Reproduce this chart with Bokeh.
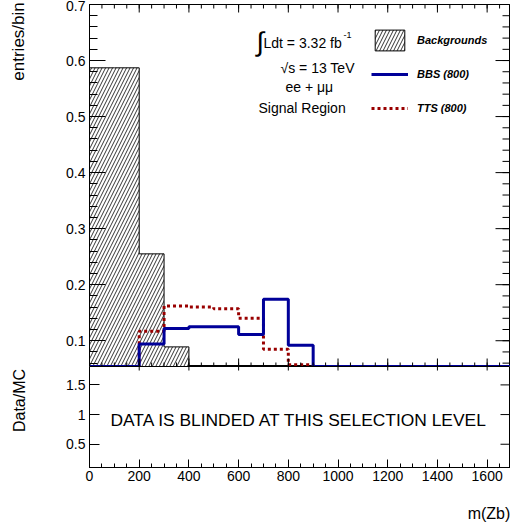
import numpy as np
from bokeh.plotting import figure
from bokeh.models import Range1d, FixedTicker, LinearAxis, Label, Legend, LegendItem
from bokeh.layouts import column
from bokeh.embed import file_html
from bokeh.resources import INLINE

# ---------------- data ----------------
bin_edges = [0, 100, 200, 300, 400, 500, 600, 700, 800, 900, 1000,
             1100, 1200, 1300, 1400, 1500, 1600, 1700]
backgrounds = [0.587, 0.587, 0.255, 0.089, 0, 0, 0, 0, 0, 0, 0, 0, 0, 0, 0, 0, 0]
bbs_800 = [0, 0, 0.094, 0.122, 0.125, 0.125, 0.111, 0.174, 0.092, 0, 0, 0, 0, 0, 0, 0, 0]
tts_800 = [0, 0, 0.117, 0.162, 0.160, 0.157, 0.140, 0.085, 0.057, 0, 0, 0, 0, 0, 0, 0, 0]

x_major_ticks = [0, 200, 400, 600, 800, 1000, 1200, 1400, 1600]
x_minor_ticks = list(range(0, 1701, 50))
y_major_ticks = [0.1, 0.2, 0.3, 0.4, 0.5, 0.6, 0.7]
y_minor_ticks = [round(v, 2) for v in np.arange(0.06, 0.701, 0.02)]
ratio_ticks = [0.5, 1, 1.5]

FONT = "Liberation Sans"

# ---------------- layout constants ----------------
W = 510
LEFT = 89
TOP1 = 4
SPLIT = 366
BOT2 = 467
XMAX = 1694
Y1 = (0.054, 0.7)
Y2 = (0.108, 1.81)
DXPX = XMAX / (W - LEFT)
DY1PX = (Y1[1] - Y1[0]) / (SPLIT - TOP1)
DY2PX = (Y2[1] - Y2[0]) / (BOT2 - SPLIT)


def fx(px):
    return (px - LEFT) * DXPX


def fy1(py):
    return Y1[1] - (py - TOP1) * DY1PX


def fy2(py):
    return Y2[1] - (py - SPLIT) * DY2PX


def axis(ticks, minors, t_in, m_in, standoff=4, overrides=None):
    a = LinearAxis(ticker=FixedTicker(ticks=ticks, minor_ticks=minors),
                   major_tick_in=t_in, major_tick_out=0,
                   minor_tick_in=m_in, minor_tick_out=0,
                   axis_line_color="black", axis_line_width=1,
                   major_tick_line_color="black", minor_tick_line_color="black",
                   major_label_text_font=FONT,
                   major_label_text_color="black",
                   major_label_text_font_size="14px",
                   major_label_standoff=standoff)
    if overrides:
        a.major_label_overrides = overrides
    return a


def title_axis(text, at, gap, size, vertical):
    # axis title drawn as the single label of an outer, line-less axis
    at = round(float(at), 4)
    a = LinearAxis(ticker=FixedTicker(ticks=[at], minor_ticks=[]),
                   major_tick_in=0, major_tick_out=gap,
                   minor_tick_in=0, minor_tick_out=0,
                   axis_line_color=None, major_tick_line_color="white",
                   major_label_standoff=0,
                   major_label_text_font=FONT, major_label_text_color="black",
                   major_label_text_font_size=size,
                   major_label_overrides={at: text})
    if vertical:
        a.major_label_orientation = "vertical"
    return a


def xticks(p, ticks, edge, length_data):
    t = np.asarray(ticks, dtype=float)
    p.segment(x0=t, x1=t, y0=np.full(len(t), edge), y1=np.full(len(t), edge + length_data),
              line_color="black", line_width=1)


def yticks(p, ticks, edge, length_data):
    t = np.asarray(ticks, dtype=float)
    p.segment(x0=np.full(len(t), edge), x1=np.full(len(t), edge + length_data), y0=t, y1=t,
              line_color="black", line_width=1)


def steps(edges, vals, floor):
    v = np.maximum(np.asarray(vals, dtype=float), floor)
    xs = np.repeat(np.asarray(edges, dtype=float), 2)[1:-1]
    ys = np.repeat(v, 2)
    return xs, ys


# ---------------- upper panel ----------------
p1 = figure(width=W, height=SPLIT, x_range=Range1d(0, XMAX), y_range=Range1d(*Y1),
            output_backend="svg", toolbar_location=None,
            x_axis_location=None, y_axis_location=None,
            min_border_left=LEFT, min_border_right=0, min_border_top=TOP1, min_border_bottom=0)
p1.outline_line_color = "black"
p1.outline_line_width = 1
p1.xgrid.visible = False
p1.ygrid.visible = False

p1.add_layout(axis(y_major_ticks, y_minor_ticks, 16, 8), "left")
p1.add_layout(title_axis("entries/bin", fy1(41), 35, "17px", True), "left")

bx, by = steps(bin_edges, backgrounds, 0)
bkg = p1.patch(x=np.concatenate([[bin_edges[0]], bx, [bin_edges[-1]]]),
               y=np.concatenate([[0], by, [0]]),
               fill_color="white", line_color="black", line_width=1,
               hatch_pattern="/", hatch_color="black", hatch_scale=7, hatch_weight=0.8)

tx, ty = steps(bin_edges, tts_800, Y1[0])
tts = p1.line(tx, ty, line_color="#990000", line_width=3, line_dash="3 3")
sx, sy = steps(bin_edges, bbs_800, Y1[0])
bbs = p1.line(sx, sy, line_color="#000099", line_width=3)

# tick marks on the unlabeled frame sides
yticks(p1, y_major_ticks, XMAX, -15 * DXPX)
yticks(p1, y_minor_ticks, XMAX, -8 * DXPX)
xticks(p1, x_major_ticks, Y1[1], -8 * DY1PX)
xticks(p1, x_minor_ticks, Y1[1], -4 * DY1PX)
xticks(p1, x_major_ticks, Y1[0], 8 * DY1PX)
xticks(p1, x_minor_ticks, Y1[0], 4 * DY1PX)

legend = Legend(items=[LegendItem(label="Backgrounds", renderers=[bkg]),
                       LegendItem(label="BBS (800)", renderers=[bbs]),
                       LegendItem(label="TTS (800)", renderers=[tts])],
                location=(282, 245), padding=0, margin=0, spacing=8,
                glyph_width=37, glyph_height=26, label_standoff=9,
                label_text_font=FONT, label_text_font_size="11px",
                label_text_font_style="bold italic", label_text_color="black",
                border_line_color=None, background_fill_alpha=0)
p1.add_layout(legend)


def lab(p, px, py, text, size, fyf, align="left"):
    p.add_layout(Label(x=fx(px), y=fyf(py), text=text, text_font=FONT,
                       text_font_size=size, text_align=align, text_baseline="middle",
                       text_color="black"))


lab(p1, 256, 41, "∫", "27px", fy1)
lab(p1, 263, 42, "Ldt = 3.32 fb", "14px", fy1)
lab(p1, 343, 34, "-1", "9px", fy1)
lab(p1, 280, 67, "√s = 13 TeV", "14px", fy1)
lab(p1, 285, 86, "ee + μμ", "14px", fy1)
lab(p1, 258, 107, "Signal Region", "14px", fy1)

# ---------------- ratio panel ----------------
p2 = figure(width=W, height=532 - SPLIT, x_range=Range1d(0, XMAX), y_range=Range1d(*Y2),
            output_backend="svg", toolbar_location=None,
            x_axis_location=None, y_axis_location=None,
            min_border_left=LEFT, min_border_right=0, min_border_top=0,
            min_border_bottom=532 - BOT2)
p2.outline_line_color = "black"
p2.outline_line_width = 1
p2.xgrid.visible = False
p2.ygrid.visible = False

over = {0.5: "0.5", 1: "1", 1.5: "1.5"}
p2.add_layout(axis(ratio_ticks, [], 10, 0, overrides=over), "left")
p2.add_layout(title_axis("Data/MC", fy2(400), 35, "16px", True), "left")
p2.add_layout(axis(x_major_ticks, x_minor_ticks, 8, 4, standoff=3), "below")
p2.add_layout(title_axis("m(Zb)", fx(488.5), 21, "16px", False), "below")

yticks(p2, ratio_ticks, XMAX, -10 * DXPX)
xticks(p2, x_major_ticks, Y2[1], -4 * DY2PX)

lab(p2, 110, 419, "DATA IS BLINDED AT THIS SELECTION LEVEL", "17.4px", fy2)

page = column(p1, p2, spacing=0)
open("out.html", "w").write(file_html(page, INLINE))
